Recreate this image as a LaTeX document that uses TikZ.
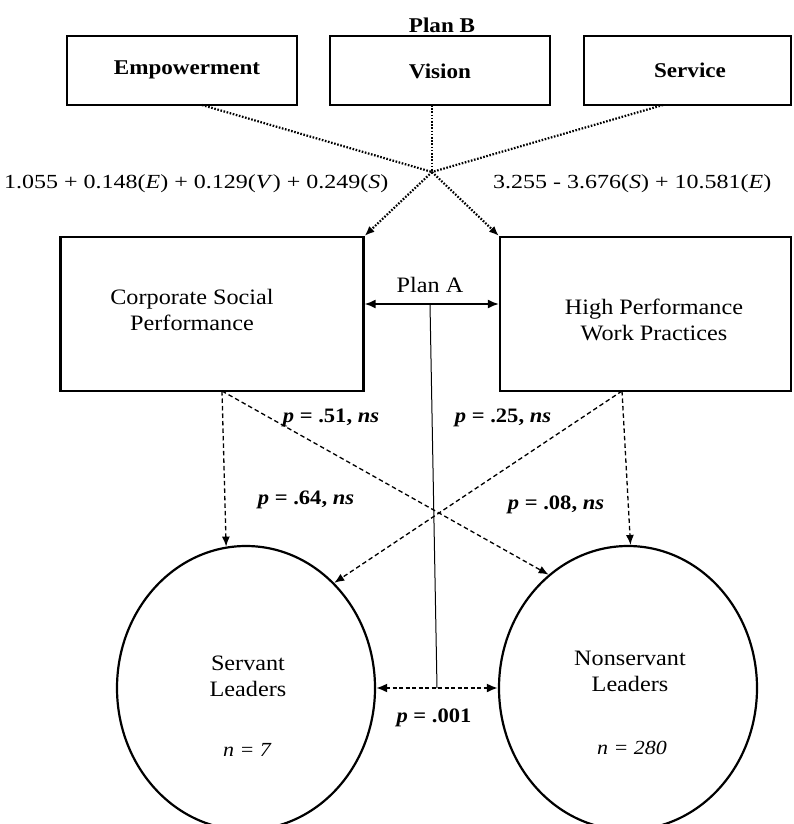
\documentclass[tikz,border=0pt]{standalone}
\usepackage{fontspec}
\setmainfont{Liberation Serif}[FakeStretch=1.1]
\newfontfamily\eqfont{Liberation Serif}[FakeStretch=1.2]
\usetikzlibrary{arrows.meta,shapes.geometric}
\begin{document}
\begin{tikzpicture}[x=1pt,y=-1pt,
  box/.style={draw,line width=2.2pt,inner sep=0pt},
  group/.style={draw,ellipse,line width=2.2pt,inner sep=0pt,minimum width=258pt,minimum height=284pt},
  lbl/.style={inner sep=0pt,font=\fontsize{22}{26}\selectfont,align=center},
  nlbl/.style={inner sep=0pt,font=\fontsize{20}{24}\selectfont\itshape},
  blbl/.style={inner sep=0pt,font=\fontsize{21}{25}\selectfont\bfseries},
  plbl/.style={inner sep=0pt,font=\fontsize{20.5}{24}\selectfont\bfseries},
  eqlbl/.style={inner sep=0pt,font=\fontsize{20}{24}\selectfont\eqfont},
  planb/.style={line width=2.2pt,dash pattern=on 1.6pt off 1.6pt},
  path/.style={line width=1.3pt,dash pattern=on 4.5pt off 3pt},
  tip/.style={-{Latex[length=10pt,width=8pt]}},
  both/.style={{Latex[length=11pt,width=9pt]}-{Latex[length=11pt,width=9pt]}}
]
\useasboundingbox (0,0) rectangle (793,824);

% Plan B predictors
\node[blbl] (planBlabel) at (442,25) {Plan B};
\node[box,minimum width=230pt,minimum height=69pt] (emp) at (182,70.5) {};
\node[box,minimum width=220pt,minimum height=69pt] (vis) at (440,70.5) {};
\node[box,minimum width=207pt,minimum height=69pt] (ser) at (687.5,70.5) {};
\node[blbl] (empT) at (187,70) {Empowerment};
\node[blbl] (visT) at (440,71) {Vision};
\node[blbl] (serT) at (690,70) {Service};

% Organisational measures
\node[box,minimum width=303pt,minimum height=154pt] (csp) at (212,314) {};
\node[box,minimum width=291pt,minimum height=154pt] (hp) at (645.5,314) {};
\node[lbl] (cspT) at (192,310) {Corporate Social\\Performance};
\node[lbl] (hpT) at (654,320) {High Performance\\Work Practices};

% Leader groups
\node[group] (sl) at (246,688) {};
\node[group] (nsl) at (628,688) {};
\node[lbl] (slT) at (248,676) {Servant\\Leaders};
\node[lbl] (nslT) at (630,671) {Nonservant\\Leaders};
\node[nlbl] (slN) at (247,750) {n = 7};
\node[nlbl] (nslN) at (632,748) {n = 280};

% Plan B regression paths
\coordinate (empB) at (202,105);
\coordinate (visB) at (432,105);
\coordinate (serB) at (663,105);
\coordinate (hub) at (432,172);
\draw[planb] (empB) -- (hub);
\draw[planb] (visB) -- (hub);
\draw[planb] (serB) -- (hub);
\draw[planb,tip] (hub) -- (csp.north east);
\draw[planb,tip] (hub) -- (hp.north west);
\node[eqlbl,anchor=west] (eqL) at (4,184) {1.055 + 0.148(\textit{E}) + 0.129(\textit{V}) + 0.249(\textit{S})};
\node[eqlbl,anchor=west] (eqR) at (493,184) {3.255 - 3.676(\textit{S}) + 10.581(\textit{E})};

% Plan A
\draw[line width=1.8pt,both] (csp.east |- 0,304) -- (hp.west |- 0,304);
\node[lbl] (planAlabel) at (430,285) {Plan A};
\coordinate (paTop) at (430,304);
\coordinate (paBot) at (437,688);
\draw[line width=1pt] (paTop) -- (paBot);

% Group paths
\coordinate (cspB) at (222,391);
\coordinate (hpB) at (622,391);
\draw[path,tip] (cspB) -- (sl.98);
\draw[path,tip] (cspB) -- (nsl.125);
\draw[path,tip] (hpB) -- (nsl.89);
\draw[path,tip] (hpB) -- (sl.50);
\draw[line width=2pt,dash pattern=on 4pt off 2.5pt,both] (sl.east) -- (nsl.west);

\node[plbl] (p51) at (331,418) {\textit{p} = .51, \textit{ns}};
\node[plbl] (p25) at (503,418) {\textit{p} = .25, \textit{ns}};
\node[plbl] (p64) at (306,500) {\textit{p} = .64, \textit{ns}};
\node[plbl] (p08) at (556,505) {\textit{p} = .08, \textit{ns}};
\node[plbl] (p001) at (434,718) {\textit{p} = .001};
\end{tikzpicture}
\end{document}
